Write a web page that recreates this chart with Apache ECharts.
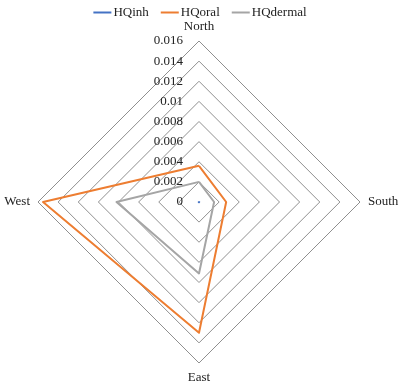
<!DOCTYPE html>
<html><head><meta charset="utf-8">
<script src="https://cdn.jsdelivr.net/npm/echarts@6/dist/echarts.min.js"></script>
<style>html,body{margin:0;padding:0;background:#fff}#c{width:400px;height:385px}</style>
</head><body><div id="c"></div>
<script>
const indicators = ['North', 'West', 'East', 'South'];
const seriesNames = ['HQinh', 'HQoral', 'HQdermal'];
const hqInh = [0.00002, 0.00003, 0.00003, 0.00002];
const hqOral = [0.0036, 0.0155, 0.013, 0.0027];
const hqDermal = [0.002, 0.0082, 0.0071, 0.0015];
const maxVal = 0.016;
const colors = ['#4472C4', '#ED7D31', '#A5A5A5'];
const font = 'Liberation Serif';

const chart = echarts.init(document.getElementById('c'));
chart.setOption({
  animation: false,
  color: colors,
  legend: {
    top: 1, left: 'center',
    data: seriesNames,
    icon: 'rect', itemWidth: 18, itemHeight: 2, itemGap: 12,
    textStyle: { fontFamily: font, fontSize: 13, color: '#222', padding: [0, 0, 0, -3] }
  },
  radar: {
    center: [199, 202],
    radius: 161,
    startAngle: 90,
    shape: 'polygon',
    splitNumber: 8,
    indicator: indicators.map((n, i) => {
      const o = { name: n, min: 0, max: maxVal };
      if (i === 0) o.axisLabel = { show: true };
      return o;
    }),
    axisName: { fontFamily: font, fontSize: 13, color: '#222' },
    nameGap: 8,
    axisLine: { show: false },
    axisTick: { show: false },
    axisLabel: { show: false, fontFamily: font, fontSize: 13, color: '#222', margin: 16 },
    splitLine: { lineStyle: { color: '#8f8f8f', width: 1 } },
    splitArea: { show: false }
  },
  series: [{
    type: 'radar',
    symbol: 'none',
    data: [
      { name: seriesNames[0], value: hqInh, lineStyle: { width: 2, color: colors[0] } },
      { name: seriesNames[1], value: hqOral, lineStyle: { width: 2, color: colors[1] } },
      { name: seriesNames[2], value: hqDermal, lineStyle: { width: 2, color: colors[2] } }
    ]
  }]
});
</script></body></html>
